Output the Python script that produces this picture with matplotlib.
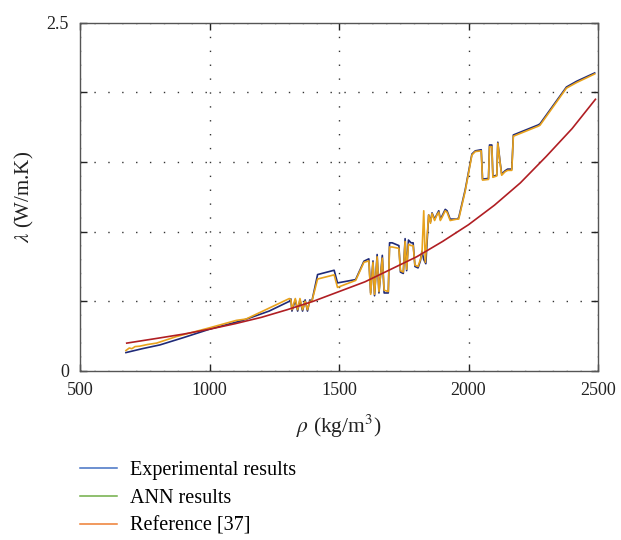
import matplotlib
matplotlib.use("Agg")
import matplotlib.pyplot as plt
from matplotlib.lines import Line2D

# ---- data ----
exp_x = [677, 740, 808, 900, 1000, 1128, 1230, 1308, 1314, 1318, 1331, 1340, 1349, 1359, 1369,
         1378, 1387, 1395, 1417, 1481, 1494, 1564, 1596, 1615, 1622, 1631, 1637, 1647, 1654,
         1667, 1674, 1690, 1695, 1705, 1731, 1737, 1748, 1755, 1761, 1768, 1778, 1786, 1793,
         1805, 1814, 1820, 1827, 1835, 1846, 1853, 1859, 1869, 1878, 1885, 1891, 1897, 1910,
         1917, 1929, 1955, 1962, 1987, 2013, 2026, 2049, 2054, 2077, 2081, 2090, 2094, 2109,
         2113, 2122, 2128, 2141, 2151, 2167, 2173, 2269, 2276, 2378, 2417, 2487]
exp_y = [0.132, 0.160, 0.187, 0.240, 0.300, 0.363, 0.430, 0.500, 0.517, 0.430, 0.510, 0.430,
         0.510, 0.430, 0.510, 0.430, 0.510, 0.500, 0.692, 0.723, 0.632, 0.656, 0.788, 0.805,
         0.560, 0.790, 0.540, 0.836, 0.560, 0.830, 0.560, 0.560, 0.920, 0.920, 0.900, 0.710,
         0.700, 0.950, 0.720, 0.940, 0.920, 0.920, 0.750, 0.740, 0.790, 0.860, 0.800, 0.770,
         1.120, 1.070, 1.135, 1.090, 1.125, 1.150, 1.090, 1.110, 1.160, 1.150, 1.090, 1.090,
         1.100, 1.300, 1.557, 1.580, 1.588, 1.377, 1.382, 1.622, 1.622, 1.396, 1.406, 1.642,
         1.497, 1.413, 1.437, 1.449, 1.449, 1.694, 1.766, 1.774, 2.038, 2.079, 2.139]

ann_x = [677, 690, 700, 712, 730, 760, 795, 872, 1000, 1103, 1141, 1308, 1314, 1318, 1331,
         1340, 1349, 1359, 1369, 1378, 1387, 1395, 1417, 1481, 1494, 1564, 1596, 1615, 1622,
         1631, 1637, 1647, 1654, 1667, 1674, 1690, 1695, 1705, 1731, 1737, 1748, 1755, 1761,
         1768, 1778, 1786, 1793, 1805, 1814, 1820, 1827, 1833, 1846, 1853, 1859, 1869, 1878,
         1885, 1891, 1897, 1910, 1917, 1929, 1955, 1962, 1987, 2013, 2026, 2049, 2054, 2077,
         2081, 2090, 2094, 2109, 2113, 2122, 2128, 2141, 2151, 2167, 2173, 2269, 2276, 2378,
         2417, 2487]
ann_y = [0.147, 0.165, 0.160, 0.175, 0.178, 0.190, 0.200, 0.247, 0.310, 0.363, 0.373, 0.520,
         0.510, 0.440, 0.520, 0.440, 0.520, 0.440, 0.500, 0.440, 0.500, 0.500, 0.660, 0.690,
         0.600, 0.650, 0.780, 0.790, 0.550, 0.780, 0.550, 0.820, 0.570, 0.810, 0.580, 0.570,
         0.890, 0.890, 0.880, 0.720, 0.710, 0.930, 0.730, 0.910, 0.900, 0.900, 0.760, 0.750,
         0.800, 0.840, 1.150, 0.780, 1.120, 1.060, 1.130, 1.080, 1.120, 1.140, 1.080, 1.100,
         1.150, 1.140, 1.080, 1.090, 1.090, 1.290, 1.550, 1.575, 1.580, 1.370, 1.375, 1.610,
         1.610, 1.390, 1.400, 1.635, 1.490, 1.405, 1.430, 1.440, 1.440, 1.685, 1.757, 1.764,
         2.030, 2.070, 2.132]

ref_x = [680, 800, 900, 1000, 1100, 1200, 1300, 1400, 1500, 1600, 1700, 1800, 1900, 2000,
         2100, 2200, 2300, 2400, 2490]
ref_y = [0.20, 0.235, 0.265, 0.30, 0.34, 0.385, 0.44, 0.50, 0.57, 0.64, 0.73, 0.82, 0.93,
         1.05, 1.19, 1.35, 1.54, 1.74, 1.95]

legend_labels = ["Experimental results", "ANN results", "Reference [37]"]
x_ticks = [500, 1000, 1500, 2000, 2500]
y_ticks = [0, 0.5, 1.0, 1.5, 2.0, 2.5]
y_tick_labels = ["0", "", "", "", "", "2.5"]

# ---- style ----
plt.rcParams["font.family"] = ["Liberation Serif", "DejaVu Serif"]
plt.rcParams["mathtext.fontset"] = "stix"

fig = plt.figure(figsize=(6.21, 5.40), dpi=100)
ax = fig.add_axes([0.129, 0.313, 0.834, 0.645])

ax.plot(exp_x, exp_y, color="#1f2a78", lw=1.2, zorder=3)
ax.plot(ann_x, ann_y, color="#e8a21c", lw=1.2, zorder=4)
ax.plot(ref_x, ref_y, color="#b01e23", lw=1.2, zorder=5)

ax.set_xlim(500, 2500)
ax.set_ylim(0, 2.5)
ax.set_xticks(x_ticks)
ax.set_yticks(y_ticks)
ax.set_yticklabels(y_tick_labels)
ax.grid(True, color="#333333", linestyle=(0, (1, 9)), linewidth=1.0)
ax.tick_params(direction="in", length=5, width=1, top=True, right=True,
               labelsize=13, colors="#222222", pad=8)
for s in ax.spines.values():
    s.set_color("#555555")
    s.set_linewidth(1.0)

ax.set_xlabel(r"$\rho$ (kg/m$^3$)", fontsize=15.5, color="#222222", labelpad=10)
ax.set_ylabel(r"$\lambda$ (W/m.K)", fontsize=15, color="#222222", labelpad=8)

handles = [Line2D([], [], color="#4472c4", lw=1.1),
           Line2D([], [], color="#70ad47", lw=1.1),
           Line2D([], [], color="#ed7d31", lw=1.1)]
fig.legend(handles, legend_labels, loc="upper left", bbox_to_anchor=(0.129, 0.146),
           frameon=False, fontsize=14.5, handlelength=1.85, handletextpad=0.65,
           labelspacing=0.43, borderaxespad=0, borderpad=0)

fig.savefig("out.png", dpi=100)
